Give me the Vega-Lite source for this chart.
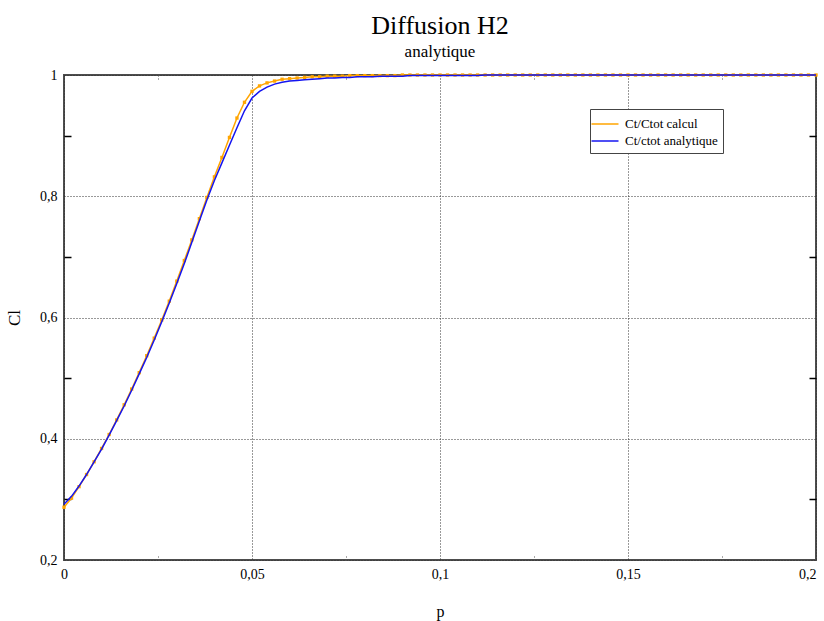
{
  "$schema": "https://vega.github.io/schema/vega-lite/v6.json",
  "width": 752,
  "height": 485,
  "autosize": {"type": "none"},
  "padding": {"left": 64, "top": 75, "right": 8, "bottom": 61},
  "background": "white",
  "title": {
    "text": "Diffusion H2",
    "subtitle": "analytique",
    "anchor": "middle",
    "offset": 8,
    "font": "Liberation Serif",
    "fontSize": 26,
    "fontWeight": "normal",
    "color": "black",
    "subtitleFont": "Liberation Serif",
    "subtitleFontSize": 17,
    "subtitleFontWeight": "normal",
    "subtitleColor": "black",
    "subtitlePadding": 5
  },
  "config": {
    "view": {"stroke": "#4d4d4d", "strokeWidth": 2},
    "font": "Liberation Serif"
  },
  "data": {
    "values": [
      {"p": 0.000, "calc": 0.287, "ana": 0.292},
      {"p": 0.002, "calc": 0.302, "ana": 0.305},
      {"p": 0.004, "calc": 0.321, "ana": 0.322},
      {"p": 0.006, "calc": 0.341, "ana": 0.341},
      {"p": 0.008, "calc": 0.362, "ana": 0.362},
      {"p": 0.010, "calc": 0.384, "ana": 0.383},
      {"p": 0.012, "calc": 0.407, "ana": 0.406},
      {"p": 0.014, "calc": 0.431, "ana": 0.430},
      {"p": 0.016, "calc": 0.456, "ana": 0.454},
      {"p": 0.018, "calc": 0.482, "ana": 0.480},
      {"p": 0.020, "calc": 0.509, "ana": 0.507},
      {"p": 0.022, "calc": 0.537, "ana": 0.534},
      {"p": 0.024, "calc": 0.566, "ana": 0.563},
      {"p": 0.026, "calc": 0.596, "ana": 0.593},
      {"p": 0.028, "calc": 0.627, "ana": 0.624},
      {"p": 0.030, "calc": 0.660, "ana": 0.656},
      {"p": 0.032, "calc": 0.694, "ana": 0.689},
      {"p": 0.034, "calc": 0.728, "ana": 0.724},
      {"p": 0.036, "calc": 0.763, "ana": 0.759},
      {"p": 0.038, "calc": 0.798, "ana": 0.794},
      {"p": 0.040, "calc": 0.832, "ana": 0.826},
      {"p": 0.042, "calc": 0.864, "ana": 0.855},
      {"p": 0.044, "calc": 0.897, "ana": 0.884},
      {"p": 0.046, "calc": 0.929, "ana": 0.913},
      {"p": 0.048, "calc": 0.955, "ana": 0.941},
      {"p": 0.050, "calc": 0.973, "ana": 0.962},
      {"p": 0.052, "calc": 0.982, "ana": 0.973},
      {"p": 0.054, "calc": 0.987, "ana": 0.980},
      {"p": 0.056, "calc": 0.990, "ana": 0.985},
      {"p": 0.058, "calc": 0.993, "ana": 0.988},
      {"p": 0.060, "calc": 0.994, "ana": 0.990},
      {"p": 0.062, "calc": 0.995, "ana": 0.991},
      {"p": 0.064, "calc": 0.996, "ana": 0.992},
      {"p": 0.066, "calc": 0.997, "ana": 0.993},
      {"p": 0.068, "calc": 0.997, "ana": 0.994},
      {"p": 0.070, "calc": 0.998, "ana": 0.995},
      {"p": 0.072, "calc": 0.998, "ana": 0.995},
      {"p": 0.074, "calc": 0.998, "ana": 0.996},
      {"p": 0.076, "calc": 0.999, "ana": 0.996},
      {"p": 0.078, "calc": 0.999, "ana": 0.997},
      {"p": 0.080, "calc": 0.999, "ana": 0.997},
      {"p": 0.082, "calc": 0.999, "ana": 0.997},
      {"p": 0.084, "calc": 0.999, "ana": 0.998},
      {"p": 0.086, "calc": 0.999, "ana": 0.998},
      {"p": 0.088, "calc": 0.999, "ana": 0.998},
      {"p": 0.090, "calc": 1.000, "ana": 0.998},
      {"p": 0.092, "calc": 1.000, "ana": 0.999},
      {"p": 0.094, "calc": 1.000, "ana": 0.999},
      {"p": 0.096, "calc": 1.000, "ana": 0.999},
      {"p": 0.098, "calc": 1.000, "ana": 0.999},
      {"p": 0.100, "calc": 1.000, "ana": 0.999},
      {"p": 0.102, "calc": 1.000, "ana": 0.999},
      {"p": 0.104, "calc": 1.000, "ana": 0.999},
      {"p": 0.106, "calc": 1.000, "ana": 0.999},
      {"p": 0.108, "calc": 1.000, "ana": 0.999},
      {"p": 0.110, "calc": 1.000, "ana": 0.999},
      {"p": 0.112, "calc": 1.000, "ana": 1.000},
      {"p": 0.114, "calc": 1.000, "ana": 1.000},
      {"p": 0.116, "calc": 1.000, "ana": 1.000},
      {"p": 0.118, "calc": 1.000, "ana": 1.000},
      {"p": 0.120, "calc": 1.000, "ana": 1.000},
      {"p": 0.122, "calc": 1.000, "ana": 1.000},
      {"p": 0.124, "calc": 1.000, "ana": 1.000},
      {"p": 0.126, "calc": 1.000, "ana": 1.000},
      {"p": 0.128, "calc": 1.000, "ana": 1.000},
      {"p": 0.130, "calc": 1.000, "ana": 1.000},
      {"p": 0.132, "calc": 1.000, "ana": 1.000},
      {"p": 0.134, "calc": 1.000, "ana": 1.000},
      {"p": 0.136, "calc": 1.000, "ana": 1.000},
      {"p": 0.138, "calc": 1.000, "ana": 1.000},
      {"p": 0.140, "calc": 1.000, "ana": 1.000},
      {"p": 0.142, "calc": 1.000, "ana": 1.000},
      {"p": 0.144, "calc": 1.000, "ana": 1.000},
      {"p": 0.146, "calc": 1.000, "ana": 1.000},
      {"p": 0.148, "calc": 1.000, "ana": 1.000},
      {"p": 0.150, "calc": 1.000, "ana": 1.000},
      {"p": 0.152, "calc": 1.000, "ana": 1.000},
      {"p": 0.154, "calc": 1.000, "ana": 1.000},
      {"p": 0.156, "calc": 1.000, "ana": 1.000},
      {"p": 0.158, "calc": 1.000, "ana": 1.000},
      {"p": 0.160, "calc": 1.000, "ana": 1.000},
      {"p": 0.162, "calc": 1.000, "ana": 1.000},
      {"p": 0.164, "calc": 1.000, "ana": 1.000},
      {"p": 0.166, "calc": 1.000, "ana": 1.000},
      {"p": 0.168, "calc": 1.000, "ana": 1.000},
      {"p": 0.170, "calc": 1.000, "ana": 1.000},
      {"p": 0.172, "calc": 1.000, "ana": 1.000},
      {"p": 0.174, "calc": 1.000, "ana": 1.000},
      {"p": 0.176, "calc": 1.000, "ana": 1.000},
      {"p": 0.178, "calc": 1.000, "ana": 1.000},
      {"p": 0.180, "calc": 1.000, "ana": 1.000},
      {"p": 0.182, "calc": 1.000, "ana": 1.000},
      {"p": 0.184, "calc": 1.000, "ana": 1.000},
      {"p": 0.186, "calc": 1.000, "ana": 1.000},
      {"p": 0.188, "calc": 1.000, "ana": 1.000},
      {"p": 0.190, "calc": 1.000, "ana": 1.000},
      {"p": 0.192, "calc": 1.000, "ana": 1.000},
      {"p": 0.194, "calc": 1.000, "ana": 1.000},
      {"p": 0.196, "calc": 1.000, "ana": 1.000},
      {"p": 0.198, "calc": 1.000, "ana": 1.000},
      {"p": 0.200, "calc": 1.000, "ana": 1.000}
    ]
  },
  "transform": [
    {"fold": ["calc", "ana"], "as": ["key", "c"]},
    {"calculate": "datum.key == 'calc' ? 'Ct/Ctot calcul' : 'Ct/ctot analytique'", "as": "s"}
  ],
  "layer": [
    {
      "transform": [{"filter": "datum.key == 'calc'"}],
      "mark": {"type": "line", "strokeWidth": 1.5, "point": {"shape": "square", "size": 11, "filled": true}},
      "encoding": {
        "x": {
          "field": "p", "type": "quantitative",
          "scale": {"domain": [0, 0.2], "nice": false, "zero": false},
          "axis": {
            "orient": "bottom",
            "values": [0, 0.025, 0.05, 0.075, 0.1, 0.125, 0.15, 0.175, 0.2],
            "labelExpr": "round(datum.value*40)%2==1 ? '' : replace(format(datum.value,'~g'),'.',',')",
            "labelFlush": false,
            "labelAlign": {"condition": {"test": "datum.value > 0.19", "value": "right"}, "value": "center"},
            "labelFont": "Liberation Serif", "labelFontSize": 14, "labelColor": "black",
            "labelPadding": 12,
            "domain": false,
            "grid": true, "gridDash": [1, 2], "gridColor": "#333", "gridWidth": 1,
            "gridOpacity": {"condition": {"test": "round(datum.value*40)%2==1", "value": 0}, "value": 1},
            "ticks": true, "tickSize": -5, "tickDash": [1, 2], "tickColor": "#555",
            "tickOpacity": {"condition": {"test": "round(datum.value*40)%2==1", "value": 1}, "value": 0},
            "title": "p", "titleFont": "Liberation Serif", "titleFontSize": 16, "titleFontWeight": "normal", "titleColor": "black", "titlePadding": 22
          }
        },
        "y": {
          "field": "c", "type": "quantitative",
          "scale": {"domain": [0.2, 1], "nice": false, "zero": false},
          "axis": {
            "orient": "left",
            "values": [0.2, 0.3, 0.4, 0.5, 0.6, 0.7, 0.8, 0.9, 1],
            "labelExpr": "round(datum.value*10)%2==1 ? '' : replace(format(datum.value,'~g'),'.',',')",
            "labelFlush": false,
            "labelFont": "Liberation Serif", "labelFontSize": 14, "labelColor": "black",
            "labelPadding": 14,
            "domain": false,
            "grid": true, "gridDash": [1, 2], "gridColor": "#333", "gridWidth": 1,
            "gridOpacity": {"condition": {"test": "round(datum.value*10)%2==1", "value": 0}, "value": 1},
            "ticks": true, "tickSize": -7, "tickColor": "black", "tickWidth": 1.5,
            "tickOpacity": {"condition": {"test": "round(datum.value*10)%2==1", "value": 1}, "value": 0},
            "title": "Cl", "titleFont": "Liberation Serif", "titleFontSize": 17, "titleFontWeight": "normal", "titleColor": "black", "titlePadding": 16
          }
        },
        "color": {
          "field": "s", "type": "nominal",
          "scale": {"domain": ["Ct/Ctot calcul", "Ct/ctot analytique"], "range": ["#ffa500", "#1414f0"]},
          "legend": {
            "orient": "none", "legendX": 526, "legendY": 34,
            "title": null,
            "symbolType": "M-1.5,0H1.5", "symbolSize": 324, "symbolStrokeWidth": 1.5,
            "labelFont": "Liberation Serif", "labelFontSize": 13, "labelColor": "black",
            "labelOffset": 10,
            "padding": 5, "rowPadding": 0,
            "strokeColor": "#444", "fillColor": "white"
          }
        }
      }
    },
    {
      "transform": [{"filter": "datum.key == 'ana'"}],
      "mark": {"type": "line", "strokeWidth": 1.5},
      "encoding": {
        "x": {
          "field": "p", "type": "quantitative",
          "axis": {
            "orient": "top",
            "values": [0.025, 0.075, 0.125, 0.175],
            "labels": false, "domain": false, "grid": false,
            "tickSize": -5, "tickDash": [1, 2], "tickColor": "#555",
            "title": null
          }
        },
        "y": {
          "field": "c", "type": "quantitative",
          "axis": {
            "orient": "right",
            "values": [0.3, 0.5, 0.7, 0.9],
            "labels": false, "domain": false, "grid": false,
            "tickSize": -7, "tickColor": "black", "tickWidth": 1.5,
            "title": null
          }
        },
        "color": {"field": "s", "type": "nominal"}
      }
    }
  ],
  "resolve": {"axis": {"x": "independent", "y": "independent"}}
}
